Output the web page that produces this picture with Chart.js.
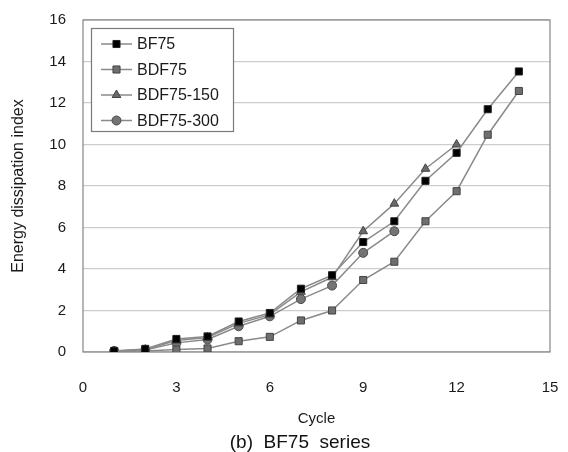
<!DOCTYPE html>
<html>
<head>
<meta charset="UTF-8">
<script src="https://cdn.jsdelivr.net/npm/chart.js"></script>
<style>
  html, body { margin: 0; padding: 0; background: #fff; }
  #wrap { width: 568px; height: 452px; }
</style>
</head>
<body>
<div id="wrap"><canvas id="chart" width="568" height="452"></canvas></div>
<script>
  // values
  const cycles = [1, 2, 3, 4, 5, 6, 7, 8, 9, 10, 11, 12, 13, 14];
  const bf75 = [0.05, 0.15, 0.63, 0.75, 1.47, 1.88, 3.05, 3.7, 5.3, 6.3, 8.25, 9.6, 11.7, 13.52];
  const bdf75 = [0.02, 0.05, 0.12, 0.17, 0.52, 0.73, 1.52, 2.0, 3.47, 4.35, 6.3, 7.75, 10.47, 12.58];
  const bdf75_150 = [0.05, 0.12, 0.55, 0.7, 1.38, 1.8, 2.9, 3.6, 5.82, 7.15, 8.83, 10.0];
  const bdf75_300 = [0.05, 0.1, 0.44, 0.6, 1.24, 1.72, 2.55, 3.2, 4.78, 5.82];

  const xTicks = [0, 3, 6, 9, 12, 15];
  const yTicks = [0, 2, 4, 6, 8, 10, 12, 14, 16];

  const font = "Arial, 'Liberation Sans', sans-serif";
  const lineColor = '#8a8a8a';

  function pts(ys) {
    return ys.map((y, i) => ({ x: cycles[i], y: y }));
  }

  function series(label, ys, style, fill, border, r) {
    return {
      label: label,
      data: pts(ys),
      borderColor: lineColor,
      borderWidth: 1.5,
      pointStyle: style,
      pointRadius: r,
      pointBackgroundColor: fill,
      pointBorderColor: border,
      pointBorderWidth: 1,
      tension: 0
    };
  }

  const datasets = [
    series('BF75', bf75, 'rect', '#000', '#222', 5),
    series('BDF75', bdf75, 'rect', '#6e6e6e', '#444', 5),
    series('BDF75-150', bdf75_150, 'triangle', '#6a6a6a', '#444', 5),
    series('BDF75-300', bdf75_300, 'circle', '#747474', '#4a4a4a', 4.5)
  ];

  // frame round the plot, legend box inside, caption under the chart
  const extras = {
    id: 'extras',
    beforeDatasetsDraw(chart) {
      const { ctx, chartArea: a } = chart;
      ctx.save();
      ctx.strokeStyle = '#858585';
      ctx.lineWidth = 1.2;
      ctx.strokeRect(a.left, a.top, a.right - a.left, a.bottom - a.top);
      ctx.restore();
    },
    afterDraw(chart) {
      const ctx = chart.ctx;
      ctx.save();
      // legend
      ctx.fillStyle = '#fff';
      ctx.fillRect(91, 28, 142, 103);
      ctx.strokeStyle = '#7a7a7a';
      ctx.lineWidth = 1.2;
      ctx.strokeRect(91.5, 28.5, 142, 103);
      chart.data.datasets.forEach((ds, i) => {
        const y = 44 + i * 25.5;
        ctx.strokeStyle = ds.borderColor;
        ctx.lineWidth = 1.5;
        ctx.beginPath();
        ctx.moveTo(101, y);
        ctx.lineTo(132, y);
        ctx.stroke();
        ctx.fillStyle = ds.pointBackgroundColor;
        ctx.strokeStyle = ds.pointBorderColor;
        ctx.lineWidth = 1;
        Chart.helpers.drawPoint(ctx, { pointStyle: ds.pointStyle, radius: ds.pointRadius, borderWidth: 1, rotation: 0 }, 116.5, y);
        ctx.fillStyle = '#1a1a1a';
        ctx.font = '16px ' + font;
        ctx.textAlign = 'left';
        ctx.textBaseline = 'middle';
        ctx.fillText(ds.label, 137, y + 1);
      });
      // caption
      ctx.fillStyle = '#111';
      ctx.font = '19px ' + font;
      ctx.textAlign = 'center';
      ctx.textBaseline = 'middle';
      ctx.fillText('(b)  BF75  series', 300, 443);
      ctx.restore();
    }
  };

  new Chart(document.getElementById('chart'), {
    type: 'line',
    data: { datasets: datasets },
    plugins: [extras],
    options: {
      responsive: false,
      animation: false,
      layout: { padding: { left: 0, right: 18, top: 20, bottom: 0 } },
      plugins: { legend: { display: false }, tooltip: { enabled: false } },
      scales: {
        x: {
          type: 'linear',
          min: 0,
          max: 15,
          afterFit(s) { s.height = 100; s.paddingLeft = 0; s.paddingRight = 0; },
          afterBuildTicks(s) { s.ticks = xTicks.map(v => ({ value: v })); },
          grid: { display: false, drawTicks: false },
          border: { display: false },
          ticks: { padding: 27, color: '#1a1a1a', font: { size: 15, family: font } },
          title: {
            display: true,
            text: 'Cycle',
            color: '#1a1a1a',
            font: { size: 15, family: font },
            padding: { top: 0, bottom: 24 }
          }
        },
        y: {
          min: 0,
          max: 16,
          afterFit(s) { s.width = 83; s.paddingTop = 0; s.paddingBottom = 0; },
          afterBuildTicks(s) { s.ticks = yTicks.map(v => ({ value: v })); },
          grid: { color: '#cdcdcd', lineWidth: 1.2, drawTicks: false },
          border: { display: false },
          ticks: { padding: 17, color: '#1a1a1a', font: { size: 15, family: font } },
          title: {
            display: true,
            text: 'Energy dissipation index',
            color: '#1a1a1a',
            font: { size: 16, family: font },
            padding: { top: 9, bottom: 0 }
          }
        }
      }
    }
  });
</script>
</body>
</html>
